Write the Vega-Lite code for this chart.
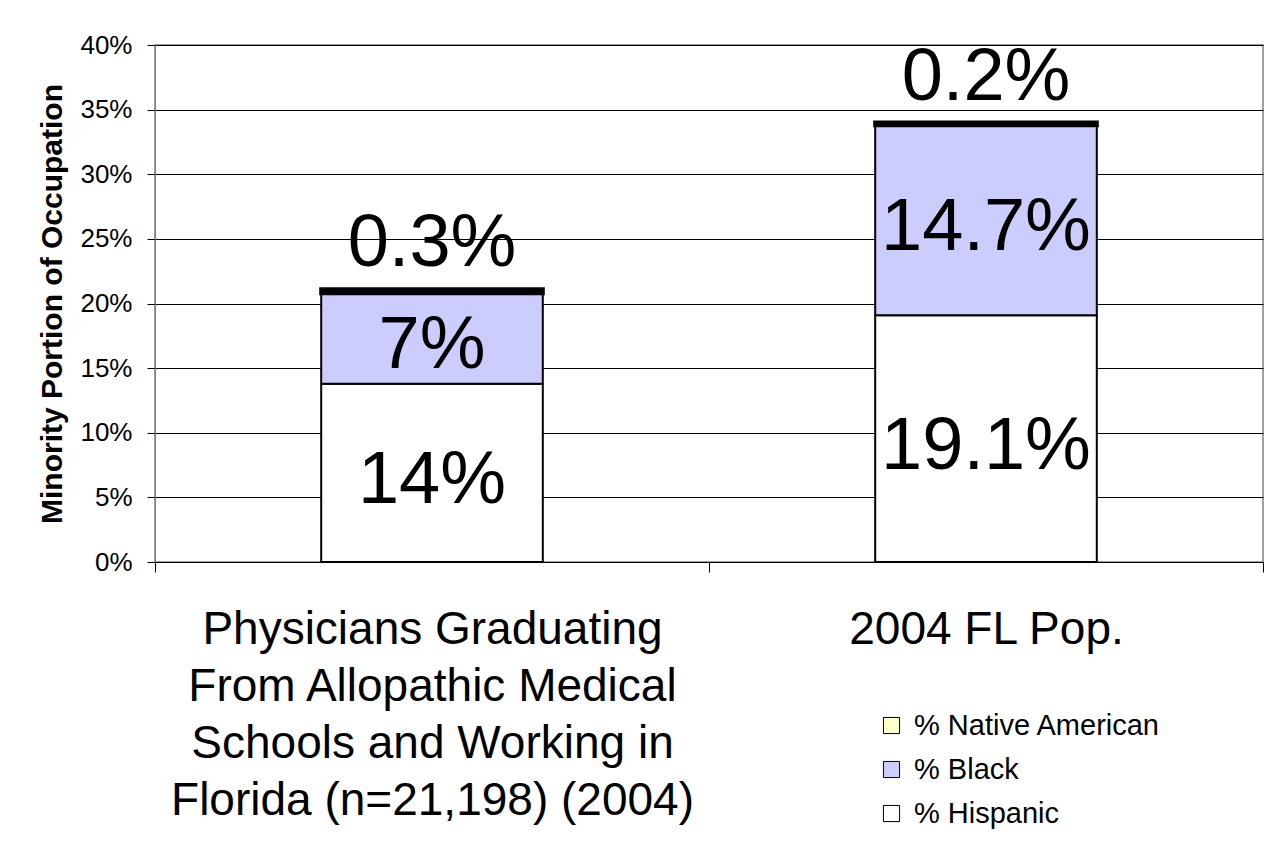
{
  "$schema": "https://vega.github.io/schema/vega-lite/v6.json",
  "width": 1108,
  "height": 517,
  "autosize": "none",
  "padding": {"left": 155, "top": 45, "right": 15, "bottom": 286},
  "background": "white",
  "config": {
    "font": "Liberation Sans",
    "view": {"stroke": "#808080", "strokeWidth": 1.5}
  },
  "data": {
    "values": [
      {"category": "Physicians Graduating|From Allopathic Medical|Schools and Working in|Florida (n=21,198) (2004)", "group": "% Hispanic", "value": 13.8, "label": "14%", "k": 1},
      {"category": "Physicians Graduating|From Allopathic Medical|Schools and Working in|Florida (n=21,198) (2004)", "group": "% Black", "value": 7.0, "label": "7%", "k": 2},
      {"category": "Physicians Graduating|From Allopathic Medical|Schools and Working in|Florida (n=21,198) (2004)", "group": "% Native American", "value": 0.3, "label": "0.3%", "k": 3},
      {"category": "2004 FL Pop.", "group": "% Hispanic", "value": 19.1, "label": "19.1%", "k": 1},
      {"category": "2004 FL Pop.", "group": "% Black", "value": 14.7, "label": "14.7%", "k": 2},
      {"category": "2004 FL Pop.", "group": "% Native American", "value": 0.2, "label": "0.2%", "k": 3}
    ]
  },
  "transform": [
    {"stack": "value", "groupby": ["category"], "sort": [{"field": "k", "order": "ascending"}], "as": ["v0", "v1"]},
    {"calculate": "(datum.v0 + datum.v1) / 2", "as": "mid"}
  ],
  "encoding": {
    "x": {
      "field": "category",
      "type": "nominal",
      "sort": null,
      "scale": {"paddingInner": 0, "paddingOuter": 0},
      "axis": {
        "title": null,
        "labelAngle": 0,
        "labelFontSize": 46,
        "labelLineHeight": 57,
        "labelExpr": "split(datum.label, '|')",
        "labelBaseline": "top",
        "labelPadding": 35,
        "labelLimit": 2000,
        "labelColor": "black",
        "tickBand": "extent",
        "tickSize": 10,
        "tickColor": "black",
        "domainColor": "black",
        "grid": false
      }
    }
  },
  "layer": [
    {
      "mark": {"type": "bar", "stroke": "black", "width": {"band": 0.4}},
      "encoding": {
        "y": {
          "field": "v0",
          "type": "quantitative",
          "scale": {"domain": [0, 40]},
          "axis": {
            "title": "Minority Portion of Occupation",
            "titleFontSize": 30,
            "titleFontWeight": "bold",
            "titleColor": "black",
            "titlePadding": 12,
            "values": [0, 5, 10, 15, 20, 25, 30, 35, 40],
            "labelExpr": "datum.value + '%'",
            "labelFontSize": 26,
            "labelColor": "black",
            "labelPadding": 15,
            "tickSize": 8,
            "tickColor": "black",
            "domainColor": "#808080",
            "grid": true,
            "gridColor": "black",
            "gridWidth": 1
          }
        },
        "y2": {"field": "v1"},
        "strokeWidth": {
          "condition": {"test": "datum.group == '% Native American'", "value": 4},
          "value": 2
        },
        "color": {
          "field": "group",
          "type": "nominal",
          "scale": {
            "domain": ["% Native American", "% Black", "% Hispanic"],
            "range": ["#FFFFCC", "#CCCCFF", "#FFFFFF"]
          },
          "legend": {
            "title": null,
            "orient": "none",
            "legendX": 722,
            "legendY": 666,
            "labelFontSize": 29,
            "labelColor": "black",
            "labelLimit": 1000,
            "symbolType": "square",
            "symbolSize": 260,
            "symbolStrokeColor": "black",
            "symbolStrokeWidth": 1,
            "symbolOpacity": 1,
            "rowPadding": 14,
            "labelOffset": 8
          }
        }
      }
    },
    {
      "transform": [{"filter": "datum.k < 3"}],
      "mark": {"type": "text", "fontSize": 74, "color": "black", "baseline": "middle", "dy": 8},
      "encoding": {
        "y": {"field": "mid", "type": "quantitative", "title": "Minority Portion of Occupation"},
        "text": {"field": "label"}
      }
    },
    {
      "transform": [{"filter": "datum.k == 3"}],
      "mark": {"type": "text", "fontSize": 74, "color": "black", "baseline": "middle", "dy": -45},
      "encoding": {
        "y": {"field": "v1", "type": "quantitative", "title": "Minority Portion of Occupation"},
        "text": {"field": "label"}
      }
    }
  ]
}
